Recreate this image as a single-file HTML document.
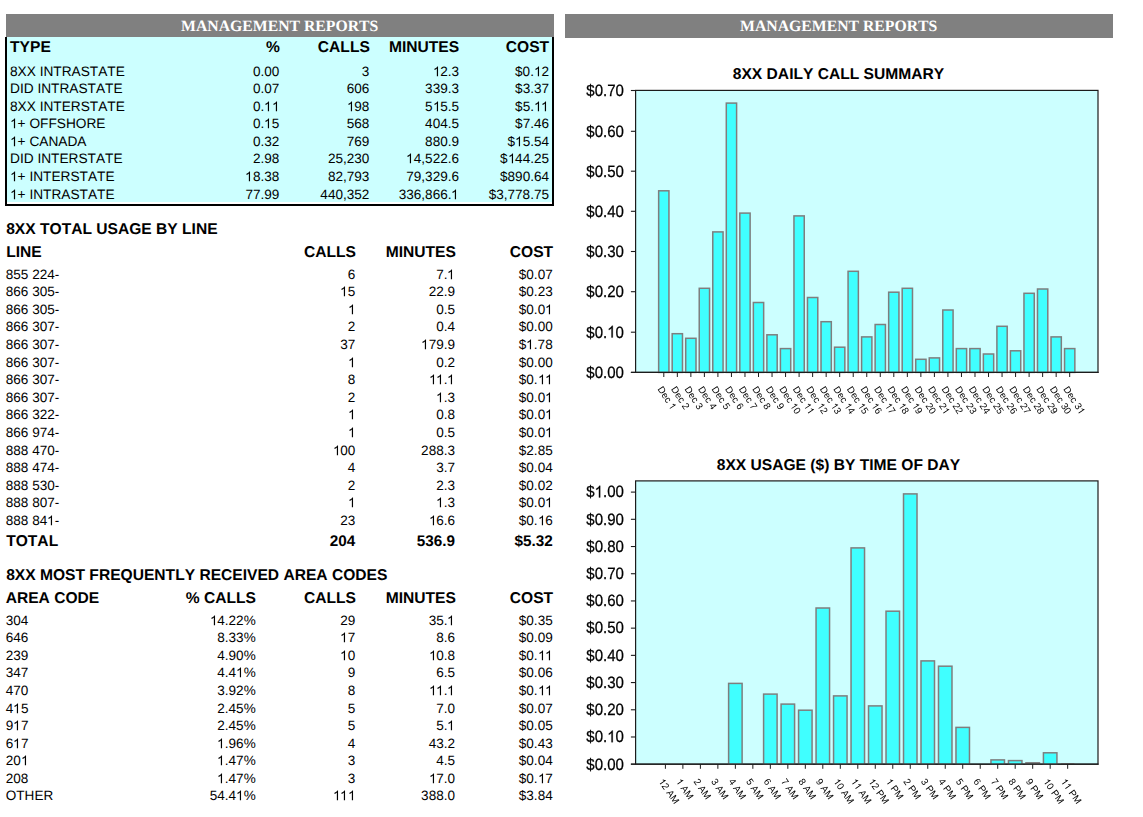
<!DOCTYPE html>
<html><head><meta charset="utf-8"><title>Management Reports</title>
<style>
html,body{margin:0;padding:0;background:#fff;}
body{width:1143px;height:817px;position:relative;overflow:hidden;font-family:"Liberation Sans",sans-serif;color:#000;text-rendering:geometricPrecision;font-kerning:none;}
.t{position:absolute;line-height:20px;white-space:nowrap;}
.bar{position:absolute;background:#808080;}
.o{position:static;display:inline-block;vertical-align:baseline;overflow:visible;will-change:auto;pointer-events:auto;}
svg{position:absolute;left:0;top:0;will-change:transform;pointer-events:none;}
.g{will-change:transform;}
svg text{font-family:"Liberation Sans",sans-serif;font-kerning:none;}
</style></head><body>
<div class="bar" style="left:6px;top:14px;width:548px;height:23px"></div>
<div class="bar" style="left:565px;top:14px;width:548px;height:24px"></div>
<div class="t" style="top:17px;font-size:15.75px;left:-20.30px;width:600px;text-align:center;font-weight:bold;color:#fff;font-family:'Liberation Serif',serif;">MANAGEMENT REPORTS</div>
<div class="t" style="top:17px;font-size:15.75px;left:538.70px;width:600px;text-align:center;font-weight:bold;color:#fff;font-family:'Liberation Serif',serif;">MANAGEMENT REPORTS</div>
<div style="position:absolute;left:5px;top:36.6px;width:549px;height:165.4px;background:#ccffff"></div>
<div style="position:absolute;left:5px;top:37px;width:2px;height:169.3px;background:#000"></div>
<div style="position:absolute;left:552.2px;top:37px;width:2.1px;height:169.3px;background:#000"></div>
<div style="position:absolute;left:5px;top:204.3px;width:549.3px;height:2px;background:#000"></div>
<div class="t" style="top:38px;font-size:15.6px;left:10.10px;font-weight:bold;">TYPE</div>
<div class="t" style="top:38px;font-size:15.6px;right:863.10px;font-weight:bold;">%</div>
<div class="t" style="top:38px;font-size:15.6px;right:773.20px;font-weight:bold;">CALLS</div>
<div class="t" style="top:38px;font-size:15.6px;right:683.90px;font-weight:bold;">MINUTES</div>
<div class="t" style="top:38px;font-size:15.6px;right:593.90px;font-weight:bold;">COST</div>
<div class="t" style="top:62px;font-size:13.7px;left:10.00px;">8XX INTRASTATE</div>
<div class="t" style="top:62px;font-size:13.55px;right:863.70px;">0.00</div>
<div class="t" style="top:62px;font-size:13.55px;right:773.70px;">3</div>
<div class="t" style="top:62px;font-size:13.55px;right:684.00px;"><svg class="o" width="7.534" height="10.163" viewBox="0 -0.75 0.556 0.75"><path transform="scale(1,-1)" d="M.3726,0H.2847V.56Q.2529,.5298 .2014,.4995T.1089,.4541V.5391Q.1826,.5737 .2378,.623T.3159,.7188H.3726Z"/></svg>2.3</div>
<div class="t" style="top:62px;font-size:13.55px;right:594.00px;">$0.<svg class="o" width="7.534" height="10.163" viewBox="0 -0.75 0.556 0.75"><path transform="scale(1,-1)" d="M.3726,0H.2847V.56Q.2529,.5298 .2014,.4995T.1089,.4541V.5391Q.1826,.5737 .2378,.623T.3159,.7188H.3726Z"/></svg>2</div>
<div class="t" style="top:79px;font-size:13.7px;left:10.00px;">DID INTRASTATE</div>
<div class="t" style="top:79px;font-size:13.55px;right:863.70px;">0.07</div>
<div class="t" style="top:79px;font-size:13.55px;right:773.70px;">606</div>
<div class="t" style="top:79px;font-size:13.55px;right:684.00px;">339.3</div>
<div class="t" style="top:79px;font-size:13.55px;right:594.00px;">$3.37</div>
<div class="t" style="top:97px;font-size:13.7px;left:10.00px;">8XX INTERSTATE</div>
<div class="t" style="top:97px;font-size:13.55px;right:863.70px;">0.<svg class="o" width="7.534" height="10.163" viewBox="0 -0.75 0.556 0.75"><path transform="scale(1,-1)" d="M.3726,0H.2847V.56Q.2529,.5298 .2014,.4995T.1089,.4541V.5391Q.1826,.5737 .2378,.623T.3159,.7188H.3726Z"/></svg><svg class="o" width="7.534" height="10.163" viewBox="0 -0.75 0.556 0.75"><path transform="scale(1,-1)" d="M.3726,0H.2847V.56Q.2529,.5298 .2014,.4995T.1089,.4541V.5391Q.1826,.5737 .2378,.623T.3159,.7188H.3726Z"/></svg></div>
<div class="t" style="top:97px;font-size:13.55px;right:773.70px;"><svg class="o" width="7.534" height="10.163" viewBox="0 -0.75 0.556 0.75"><path transform="scale(1,-1)" d="M.3726,0H.2847V.56Q.2529,.5298 .2014,.4995T.1089,.4541V.5391Q.1826,.5737 .2378,.623T.3159,.7188H.3726Z"/></svg>98</div>
<div class="t" style="top:97px;font-size:13.55px;right:684.00px;">5<svg class="o" width="7.534" height="10.163" viewBox="0 -0.75 0.556 0.75"><path transform="scale(1,-1)" d="M.3726,0H.2847V.56Q.2529,.5298 .2014,.4995T.1089,.4541V.5391Q.1826,.5737 .2378,.623T.3159,.7188H.3726Z"/></svg>5.5</div>
<div class="t" style="top:97px;font-size:13.55px;right:594.00px;">$5.<svg class="o" width="7.534" height="10.163" viewBox="0 -0.75 0.556 0.75"><path transform="scale(1,-1)" d="M.3726,0H.2847V.56Q.2529,.5298 .2014,.4995T.1089,.4541V.5391Q.1826,.5737 .2378,.623T.3159,.7188H.3726Z"/></svg><svg class="o" width="7.534" height="10.163" viewBox="0 -0.75 0.556 0.75"><path transform="scale(1,-1)" d="M.3726,0H.2847V.56Q.2529,.5298 .2014,.4995T.1089,.4541V.5391Q.1826,.5737 .2378,.623T.3159,.7188H.3726Z"/></svg></div>
<div class="t" style="top:114px;font-size:13.7px;left:10.00px;"><svg class="o" width="7.617" height="10.275" viewBox="0 -0.75 0.556 0.75"><path transform="scale(1,-1)" d="M.3726,0H.2847V.56Q.2529,.5298 .2014,.4995T.1089,.4541V.5391Q.1826,.5737 .2378,.623T.3159,.7188H.3726Z"/></svg>+ OFFSHORE</div>
<div class="t" style="top:114px;font-size:13.55px;right:863.70px;">0.<svg class="o" width="7.534" height="10.163" viewBox="0 -0.75 0.556 0.75"><path transform="scale(1,-1)" d="M.3726,0H.2847V.56Q.2529,.5298 .2014,.4995T.1089,.4541V.5391Q.1826,.5737 .2378,.623T.3159,.7188H.3726Z"/></svg>5</div>
<div class="t" style="top:114px;font-size:13.55px;right:773.70px;">568</div>
<div class="t" style="top:114px;font-size:13.55px;right:684.00px;">404.5</div>
<div class="t" style="top:114px;font-size:13.55px;right:594.00px;">$7.46</div>
<div class="t" style="top:132px;font-size:13.7px;left:10.00px;"><svg class="o" width="7.617" height="10.275" viewBox="0 -0.75 0.556 0.75"><path transform="scale(1,-1)" d="M.3726,0H.2847V.56Q.2529,.5298 .2014,.4995T.1089,.4541V.5391Q.1826,.5737 .2378,.623T.3159,.7188H.3726Z"/></svg>+ CANADA</div>
<div class="t" style="top:132px;font-size:13.55px;right:863.70px;">0.32</div>
<div class="t" style="top:132px;font-size:13.55px;right:773.70px;">769</div>
<div class="t" style="top:132px;font-size:13.55px;right:684.00px;">880.9</div>
<div class="t" style="top:132px;font-size:13.55px;right:594.00px;">$<svg class="o" width="7.534" height="10.163" viewBox="0 -0.75 0.556 0.75"><path transform="scale(1,-1)" d="M.3726,0H.2847V.56Q.2529,.5298 .2014,.4995T.1089,.4541V.5391Q.1826,.5737 .2378,.623T.3159,.7188H.3726Z"/></svg>5.54</div>
<div class="t" style="top:149px;font-size:13.7px;left:10.00px;">DID INTERSTATE</div>
<div class="t" style="top:149px;font-size:13.55px;right:863.70px;">2.98</div>
<div class="t" style="top:149px;font-size:13.55px;right:773.70px;">25,230</div>
<div class="t" style="top:149px;font-size:13.55px;right:684.00px;"><svg class="o" width="7.534" height="10.163" viewBox="0 -0.75 0.556 0.75"><path transform="scale(1,-1)" d="M.3726,0H.2847V.56Q.2529,.5298 .2014,.4995T.1089,.4541V.5391Q.1826,.5737 .2378,.623T.3159,.7188H.3726Z"/></svg>4,522.6</div>
<div class="t" style="top:149px;font-size:13.55px;right:594.00px;">$<svg class="o" width="7.534" height="10.163" viewBox="0 -0.75 0.556 0.75"><path transform="scale(1,-1)" d="M.3726,0H.2847V.56Q.2529,.5298 .2014,.4995T.1089,.4541V.5391Q.1826,.5737 .2378,.623T.3159,.7188H.3726Z"/></svg>44.25</div>
<div class="t" style="top:167px;font-size:13.7px;left:10.00px;"><svg class="o" width="7.617" height="10.275" viewBox="0 -0.75 0.556 0.75"><path transform="scale(1,-1)" d="M.3726,0H.2847V.56Q.2529,.5298 .2014,.4995T.1089,.4541V.5391Q.1826,.5737 .2378,.623T.3159,.7188H.3726Z"/></svg>+ INTERSTATE</div>
<div class="t" style="top:167px;font-size:13.55px;right:863.70px;"><svg class="o" width="7.534" height="10.163" viewBox="0 -0.75 0.556 0.75"><path transform="scale(1,-1)" d="M.3726,0H.2847V.56Q.2529,.5298 .2014,.4995T.1089,.4541V.5391Q.1826,.5737 .2378,.623T.3159,.7188H.3726Z"/></svg>8.38</div>
<div class="t" style="top:167px;font-size:13.55px;right:773.70px;">82,793</div>
<div class="t" style="top:167px;font-size:13.55px;right:684.00px;">79,329.6</div>
<div class="t" style="top:167px;font-size:13.55px;right:594.00px;">$890.64</div>
<div class="t" style="top:185px;font-size:13.7px;left:10.00px;"><svg class="o" width="7.617" height="10.275" viewBox="0 -0.75 0.556 0.75"><path transform="scale(1,-1)" d="M.3726,0H.2847V.56Q.2529,.5298 .2014,.4995T.1089,.4541V.5391Q.1826,.5737 .2378,.623T.3159,.7188H.3726Z"/></svg>+ INTRASTATE</div>
<div class="t" style="top:185px;font-size:13.55px;right:863.70px;">77.99</div>
<div class="t" style="top:185px;font-size:13.55px;right:773.70px;">440,352</div>
<div class="t" style="top:185px;font-size:13.55px;right:684.00px;">336,866.<svg class="o" width="7.534" height="10.163" viewBox="0 -0.75 0.556 0.75"><path transform="scale(1,-1)" d="M.3726,0H.2847V.56Q.2529,.5298 .2014,.4995T.1089,.4541V.5391Q.1826,.5737 .2378,.623T.3159,.7188H.3726Z"/></svg></div>
<div class="t" style="top:185px;font-size:13.55px;right:594.00px;">$3,778.75</div>
<div class="t" style="top:220px;font-size:15.6px;left:6.20px;font-weight:bold;">8XX TOTAL USAGE BY LINE</div>
<div class="t" style="top:243px;font-size:15.6px;left:6.20px;font-weight:bold;">LINE</div>
<div class="t" style="top:243px;font-size:15.6px;right:787.10px;font-weight:bold;">CALLS</div>
<div class="t" style="top:243px;font-size:15.6px;right:687.20px;font-weight:bold;">MINUTES</div>
<div class="t" style="top:243px;font-size:15.6px;right:589.90px;font-weight:bold;">COST</div>
<div class="t" style="top:265px;font-size:13.55px;left:5.80px;">855 224-</div>
<div class="t" style="top:265px;font-size:13.55px;right:787.70px;">6</div>
<div class="t" style="top:265px;font-size:13.55px;right:688.00px;">7.<svg class="o" width="7.534" height="10.163" viewBox="0 -0.75 0.556 0.75"><path transform="scale(1,-1)" d="M.3726,0H.2847V.56Q.2529,.5298 .2014,.4995T.1089,.4541V.5391Q.1826,.5737 .2378,.623T.3159,.7188H.3726Z"/></svg></div>
<div class="t" style="top:265px;font-size:13.55px;right:590.30px;">$0.07</div>
<div class="t" style="top:282px;font-size:13.55px;left:5.80px;">866 305-</div>
<div class="t" style="top:282px;font-size:13.55px;right:787.70px;"><svg class="o" width="7.534" height="10.163" viewBox="0 -0.75 0.556 0.75"><path transform="scale(1,-1)" d="M.3726,0H.2847V.56Q.2529,.5298 .2014,.4995T.1089,.4541V.5391Q.1826,.5737 .2378,.623T.3159,.7188H.3726Z"/></svg>5</div>
<div class="t" style="top:282px;font-size:13.55px;right:688.00px;">22.9</div>
<div class="t" style="top:282px;font-size:13.55px;right:590.30px;">$0.23</div>
<div class="t" style="top:300px;font-size:13.55px;left:5.80px;">866 305-</div>
<div class="t" style="top:300px;font-size:13.55px;right:787.70px;"><svg class="o" width="7.534" height="10.163" viewBox="0 -0.75 0.556 0.75"><path transform="scale(1,-1)" d="M.3726,0H.2847V.56Q.2529,.5298 .2014,.4995T.1089,.4541V.5391Q.1826,.5737 .2378,.623T.3159,.7188H.3726Z"/></svg></div>
<div class="t" style="top:300px;font-size:13.55px;right:688.00px;">0.5</div>
<div class="t" style="top:300px;font-size:13.55px;right:590.30px;">$0.0<svg class="o" width="7.534" height="10.163" viewBox="0 -0.75 0.556 0.75"><path transform="scale(1,-1)" d="M.3726,0H.2847V.56Q.2529,.5298 .2014,.4995T.1089,.4541V.5391Q.1826,.5737 .2378,.623T.3159,.7188H.3726Z"/></svg></div>
<div class="t" style="top:317px;font-size:13.55px;left:5.80px;">866 307-</div>
<div class="t" style="top:317px;font-size:13.55px;right:787.70px;">2</div>
<div class="t" style="top:317px;font-size:13.55px;right:688.00px;">0.4</div>
<div class="t" style="top:317px;font-size:13.55px;right:590.30px;">$0.00</div>
<div class="t" style="top:335px;font-size:13.55px;left:5.80px;">866 307-</div>
<div class="t" style="top:335px;font-size:13.55px;right:787.70px;">37</div>
<div class="t" style="top:335px;font-size:13.55px;right:688.00px;"><svg class="o" width="7.534" height="10.163" viewBox="0 -0.75 0.556 0.75"><path transform="scale(1,-1)" d="M.3726,0H.2847V.56Q.2529,.5298 .2014,.4995T.1089,.4541V.5391Q.1826,.5737 .2378,.623T.3159,.7188H.3726Z"/></svg>79.9</div>
<div class="t" style="top:335px;font-size:13.55px;right:590.30px;">$<svg class="o" width="7.534" height="10.163" viewBox="0 -0.75 0.556 0.75"><path transform="scale(1,-1)" d="M.3726,0H.2847V.56Q.2529,.5298 .2014,.4995T.1089,.4541V.5391Q.1826,.5737 .2378,.623T.3159,.7188H.3726Z"/></svg>.78</div>
<div class="t" style="top:353px;font-size:13.55px;left:5.80px;">866 307-</div>
<div class="t" style="top:353px;font-size:13.55px;right:787.70px;"><svg class="o" width="7.534" height="10.163" viewBox="0 -0.75 0.556 0.75"><path transform="scale(1,-1)" d="M.3726,0H.2847V.56Q.2529,.5298 .2014,.4995T.1089,.4541V.5391Q.1826,.5737 .2378,.623T.3159,.7188H.3726Z"/></svg></div>
<div class="t" style="top:353px;font-size:13.55px;right:688.00px;">0.2</div>
<div class="t" style="top:353px;font-size:13.55px;right:590.30px;">$0.00</div>
<div class="t" style="top:370px;font-size:13.55px;left:5.80px;">866 307-</div>
<div class="t" style="top:370px;font-size:13.55px;right:787.70px;">8</div>
<div class="t" style="top:370px;font-size:13.55px;right:688.00px;"><svg class="o" width="7.534" height="10.163" viewBox="0 -0.75 0.556 0.75"><path transform="scale(1,-1)" d="M.3726,0H.2847V.56Q.2529,.5298 .2014,.4995T.1089,.4541V.5391Q.1826,.5737 .2378,.623T.3159,.7188H.3726Z"/></svg><svg class="o" width="7.534" height="10.163" viewBox="0 -0.75 0.556 0.75"><path transform="scale(1,-1)" d="M.3726,0H.2847V.56Q.2529,.5298 .2014,.4995T.1089,.4541V.5391Q.1826,.5737 .2378,.623T.3159,.7188H.3726Z"/></svg>.<svg class="o" width="7.534" height="10.163" viewBox="0 -0.75 0.556 0.75"><path transform="scale(1,-1)" d="M.3726,0H.2847V.56Q.2529,.5298 .2014,.4995T.1089,.4541V.5391Q.1826,.5737 .2378,.623T.3159,.7188H.3726Z"/></svg></div>
<div class="t" style="top:370px;font-size:13.55px;right:590.30px;">$0.<svg class="o" width="7.534" height="10.163" viewBox="0 -0.75 0.556 0.75"><path transform="scale(1,-1)" d="M.3726,0H.2847V.56Q.2529,.5298 .2014,.4995T.1089,.4541V.5391Q.1826,.5737 .2378,.623T.3159,.7188H.3726Z"/></svg><svg class="o" width="7.534" height="10.163" viewBox="0 -0.75 0.556 0.75"><path transform="scale(1,-1)" d="M.3726,0H.2847V.56Q.2529,.5298 .2014,.4995T.1089,.4541V.5391Q.1826,.5737 .2378,.623T.3159,.7188H.3726Z"/></svg></div>
<div class="t" style="top:388px;font-size:13.55px;left:5.80px;">866 307-</div>
<div class="t" style="top:388px;font-size:13.55px;right:787.70px;">2</div>
<div class="t" style="top:388px;font-size:13.55px;right:688.00px;"><svg class="o" width="7.534" height="10.163" viewBox="0 -0.75 0.556 0.75"><path transform="scale(1,-1)" d="M.3726,0H.2847V.56Q.2529,.5298 .2014,.4995T.1089,.4541V.5391Q.1826,.5737 .2378,.623T.3159,.7188H.3726Z"/></svg>.3</div>
<div class="t" style="top:388px;font-size:13.55px;right:590.30px;">$0.0<svg class="o" width="7.534" height="10.163" viewBox="0 -0.75 0.556 0.75"><path transform="scale(1,-1)" d="M.3726,0H.2847V.56Q.2529,.5298 .2014,.4995T.1089,.4541V.5391Q.1826,.5737 .2378,.623T.3159,.7188H.3726Z"/></svg></div>
<div class="t" style="top:405px;font-size:13.55px;left:5.80px;">866 322-</div>
<div class="t" style="top:405px;font-size:13.55px;right:787.70px;"><svg class="o" width="7.534" height="10.163" viewBox="0 -0.75 0.556 0.75"><path transform="scale(1,-1)" d="M.3726,0H.2847V.56Q.2529,.5298 .2014,.4995T.1089,.4541V.5391Q.1826,.5737 .2378,.623T.3159,.7188H.3726Z"/></svg></div>
<div class="t" style="top:405px;font-size:13.55px;right:688.00px;">0.8</div>
<div class="t" style="top:405px;font-size:13.55px;right:590.30px;">$0.0<svg class="o" width="7.534" height="10.163" viewBox="0 -0.75 0.556 0.75"><path transform="scale(1,-1)" d="M.3726,0H.2847V.56Q.2529,.5298 .2014,.4995T.1089,.4541V.5391Q.1826,.5737 .2378,.623T.3159,.7188H.3726Z"/></svg></div>
<div class="t" style="top:423px;font-size:13.55px;left:5.80px;">866 974-</div>
<div class="t" style="top:423px;font-size:13.55px;right:787.70px;"><svg class="o" width="7.534" height="10.163" viewBox="0 -0.75 0.556 0.75"><path transform="scale(1,-1)" d="M.3726,0H.2847V.56Q.2529,.5298 .2014,.4995T.1089,.4541V.5391Q.1826,.5737 .2378,.623T.3159,.7188H.3726Z"/></svg></div>
<div class="t" style="top:423px;font-size:13.55px;right:688.00px;">0.5</div>
<div class="t" style="top:423px;font-size:13.55px;right:590.30px;">$0.0<svg class="o" width="7.534" height="10.163" viewBox="0 -0.75 0.556 0.75"><path transform="scale(1,-1)" d="M.3726,0H.2847V.56Q.2529,.5298 .2014,.4995T.1089,.4541V.5391Q.1826,.5737 .2378,.623T.3159,.7188H.3726Z"/></svg></div>
<div class="t" style="top:441px;font-size:13.55px;left:5.80px;">888 470-</div>
<div class="t" style="top:441px;font-size:13.55px;right:787.70px;"><svg class="o" width="7.534" height="10.163" viewBox="0 -0.75 0.556 0.75"><path transform="scale(1,-1)" d="M.3726,0H.2847V.56Q.2529,.5298 .2014,.4995T.1089,.4541V.5391Q.1826,.5737 .2378,.623T.3159,.7188H.3726Z"/></svg>00</div>
<div class="t" style="top:441px;font-size:13.55px;right:688.00px;">288.3</div>
<div class="t" style="top:441px;font-size:13.55px;right:590.30px;">$2.85</div>
<div class="t" style="top:458px;font-size:13.55px;left:5.80px;">888 474-</div>
<div class="t" style="top:458px;font-size:13.55px;right:787.70px;">4</div>
<div class="t" style="top:458px;font-size:13.55px;right:688.00px;">3.7</div>
<div class="t" style="top:458px;font-size:13.55px;right:590.30px;">$0.04</div>
<div class="t" style="top:476px;font-size:13.55px;left:5.80px;">888 530-</div>
<div class="t" style="top:476px;font-size:13.55px;right:787.70px;">2</div>
<div class="t" style="top:476px;font-size:13.55px;right:688.00px;">2.3</div>
<div class="t" style="top:476px;font-size:13.55px;right:590.30px;">$0.02</div>
<div class="t" style="top:493px;font-size:13.55px;left:5.80px;">888 807-</div>
<div class="t" style="top:493px;font-size:13.55px;right:787.70px;"><svg class="o" width="7.534" height="10.163" viewBox="0 -0.75 0.556 0.75"><path transform="scale(1,-1)" d="M.3726,0H.2847V.56Q.2529,.5298 .2014,.4995T.1089,.4541V.5391Q.1826,.5737 .2378,.623T.3159,.7188H.3726Z"/></svg></div>
<div class="t" style="top:493px;font-size:13.55px;right:688.00px;"><svg class="o" width="7.534" height="10.163" viewBox="0 -0.75 0.556 0.75"><path transform="scale(1,-1)" d="M.3726,0H.2847V.56Q.2529,.5298 .2014,.4995T.1089,.4541V.5391Q.1826,.5737 .2378,.623T.3159,.7188H.3726Z"/></svg>.3</div>
<div class="t" style="top:493px;font-size:13.55px;right:590.30px;">$0.0<svg class="o" width="7.534" height="10.163" viewBox="0 -0.75 0.556 0.75"><path transform="scale(1,-1)" d="M.3726,0H.2847V.56Q.2529,.5298 .2014,.4995T.1089,.4541V.5391Q.1826,.5737 .2378,.623T.3159,.7188H.3726Z"/></svg></div>
<div class="t" style="top:511px;font-size:13.55px;left:5.80px;">888 84<svg class="o" width="7.534" height="10.163" viewBox="0 -0.75 0.556 0.75"><path transform="scale(1,-1)" d="M.3726,0H.2847V.56Q.2529,.5298 .2014,.4995T.1089,.4541V.5391Q.1826,.5737 .2378,.623T.3159,.7188H.3726Z"/></svg>-</div>
<div class="t" style="top:511px;font-size:13.55px;right:787.70px;">23</div>
<div class="t" style="top:511px;font-size:13.55px;right:688.00px;"><svg class="o" width="7.534" height="10.163" viewBox="0 -0.75 0.556 0.75"><path transform="scale(1,-1)" d="M.3726,0H.2847V.56Q.2529,.5298 .2014,.4995T.1089,.4541V.5391Q.1826,.5737 .2378,.623T.3159,.7188H.3726Z"/></svg>6.6</div>
<div class="t" style="top:511px;font-size:13.55px;right:590.30px;">$0.<svg class="o" width="7.534" height="10.163" viewBox="0 -0.75 0.556 0.75"><path transform="scale(1,-1)" d="M.3726,0H.2847V.56Q.2529,.5298 .2014,.4995T.1089,.4541V.5391Q.1826,.5737 .2378,.623T.3159,.7188H.3726Z"/></svg>6</div>
<div class="t" style="top:532px;font-size:15.6px;left:6.20px;font-weight:bold;">TOTAL</div>
<div class="t" style="top:532px;font-size:15.3px;right:787.80px;font-weight:bold;">204</div>
<div class="t" style="top:532px;font-size:15.3px;right:688.00px;font-weight:bold;">536.9</div>
<div class="t" style="top:532px;font-size:15.3px;right:590.30px;font-weight:bold;">$5.32</div>
<div class="t" style="top:566px;font-size:15.6px;left:6.20px;font-weight:bold;">8XX MOST FREQUENTLY RECEIVED AREA CODES</div>
<div class="t" style="top:589px;font-size:15.6px;left:5.70px;font-weight:bold;">AREA CODE</div>
<div class="t" style="top:589px;font-size:15.6px;right:887.10px;font-weight:bold;">% CALLS</div>
<div class="t" style="top:589px;font-size:15.6px;right:787.10px;font-weight:bold;">CALLS</div>
<div class="t" style="top:589px;font-size:15.6px;right:687.20px;font-weight:bold;">MINUTES</div>
<div class="t" style="top:589px;font-size:15.6px;right:589.90px;font-weight:bold;">COST</div>
<div class="t" style="top:611px;font-size:13.55px;left:5.80px;">304</div>
<div class="t" style="top:611px;font-size:13.55px;right:887.30px;"><svg class="o" width="7.534" height="10.163" viewBox="0 -0.75 0.556 0.75"><path transform="scale(1,-1)" d="M.3726,0H.2847V.56Q.2529,.5298 .2014,.4995T.1089,.4541V.5391Q.1826,.5737 .2378,.623T.3159,.7188H.3726Z"/></svg>4.22%</div>
<div class="t" style="top:611px;font-size:13.55px;right:787.60px;">29</div>
<div class="t" style="top:611px;font-size:13.55px;right:688.00px;">35.<svg class="o" width="7.534" height="10.163" viewBox="0 -0.75 0.556 0.75"><path transform="scale(1,-1)" d="M.3726,0H.2847V.56Q.2529,.5298 .2014,.4995T.1089,.4541V.5391Q.1826,.5737 .2378,.623T.3159,.7188H.3726Z"/></svg></div>
<div class="t" style="top:611px;font-size:13.55px;right:590.30px;">$0.35</div>
<div class="t" style="top:628px;font-size:13.55px;left:5.80px;">646</div>
<div class="t" style="top:628px;font-size:13.55px;right:887.30px;">8.33%</div>
<div class="t" style="top:628px;font-size:13.55px;right:787.60px;"><svg class="o" width="7.534" height="10.163" viewBox="0 -0.75 0.556 0.75"><path transform="scale(1,-1)" d="M.3726,0H.2847V.56Q.2529,.5298 .2014,.4995T.1089,.4541V.5391Q.1826,.5737 .2378,.623T.3159,.7188H.3726Z"/></svg>7</div>
<div class="t" style="top:628px;font-size:13.55px;right:688.00px;">8.6</div>
<div class="t" style="top:628px;font-size:13.55px;right:590.30px;">$0.09</div>
<div class="t" style="top:646px;font-size:13.55px;left:5.80px;">239</div>
<div class="t" style="top:646px;font-size:13.55px;right:887.30px;">4.90%</div>
<div class="t" style="top:646px;font-size:13.55px;right:787.60px;"><svg class="o" width="7.534" height="10.163" viewBox="0 -0.75 0.556 0.75"><path transform="scale(1,-1)" d="M.3726,0H.2847V.56Q.2529,.5298 .2014,.4995T.1089,.4541V.5391Q.1826,.5737 .2378,.623T.3159,.7188H.3726Z"/></svg>0</div>
<div class="t" style="top:646px;font-size:13.55px;right:688.00px;"><svg class="o" width="7.534" height="10.163" viewBox="0 -0.75 0.556 0.75"><path transform="scale(1,-1)" d="M.3726,0H.2847V.56Q.2529,.5298 .2014,.4995T.1089,.4541V.5391Q.1826,.5737 .2378,.623T.3159,.7188H.3726Z"/></svg>0.8</div>
<div class="t" style="top:646px;font-size:13.55px;right:590.30px;">$0.<svg class="o" width="7.534" height="10.163" viewBox="0 -0.75 0.556 0.75"><path transform="scale(1,-1)" d="M.3726,0H.2847V.56Q.2529,.5298 .2014,.4995T.1089,.4541V.5391Q.1826,.5737 .2378,.623T.3159,.7188H.3726Z"/></svg><svg class="o" width="7.534" height="10.163" viewBox="0 -0.75 0.556 0.75"><path transform="scale(1,-1)" d="M.3726,0H.2847V.56Q.2529,.5298 .2014,.4995T.1089,.4541V.5391Q.1826,.5737 .2378,.623T.3159,.7188H.3726Z"/></svg></div>
<div class="t" style="top:663px;font-size:13.55px;left:5.80px;">347</div>
<div class="t" style="top:663px;font-size:13.55px;right:887.30px;">4.4<svg class="o" width="7.534" height="10.163" viewBox="0 -0.75 0.556 0.75"><path transform="scale(1,-1)" d="M.3726,0H.2847V.56Q.2529,.5298 .2014,.4995T.1089,.4541V.5391Q.1826,.5737 .2378,.623T.3159,.7188H.3726Z"/></svg>%</div>
<div class="t" style="top:663px;font-size:13.55px;right:787.60px;">9</div>
<div class="t" style="top:663px;font-size:13.55px;right:688.00px;">6.5</div>
<div class="t" style="top:663px;font-size:13.55px;right:590.30px;">$0.06</div>
<div class="t" style="top:681px;font-size:13.55px;left:5.80px;">470</div>
<div class="t" style="top:681px;font-size:13.55px;right:887.30px;">3.92%</div>
<div class="t" style="top:681px;font-size:13.55px;right:787.60px;">8</div>
<div class="t" style="top:681px;font-size:13.55px;right:688.00px;"><svg class="o" width="7.534" height="10.163" viewBox="0 -0.75 0.556 0.75"><path transform="scale(1,-1)" d="M.3726,0H.2847V.56Q.2529,.5298 .2014,.4995T.1089,.4541V.5391Q.1826,.5737 .2378,.623T.3159,.7188H.3726Z"/></svg><svg class="o" width="7.534" height="10.163" viewBox="0 -0.75 0.556 0.75"><path transform="scale(1,-1)" d="M.3726,0H.2847V.56Q.2529,.5298 .2014,.4995T.1089,.4541V.5391Q.1826,.5737 .2378,.623T.3159,.7188H.3726Z"/></svg>.<svg class="o" width="7.534" height="10.163" viewBox="0 -0.75 0.556 0.75"><path transform="scale(1,-1)" d="M.3726,0H.2847V.56Q.2529,.5298 .2014,.4995T.1089,.4541V.5391Q.1826,.5737 .2378,.623T.3159,.7188H.3726Z"/></svg></div>
<div class="t" style="top:681px;font-size:13.55px;right:590.30px;">$0.<svg class="o" width="7.534" height="10.163" viewBox="0 -0.75 0.556 0.75"><path transform="scale(1,-1)" d="M.3726,0H.2847V.56Q.2529,.5298 .2014,.4995T.1089,.4541V.5391Q.1826,.5737 .2378,.623T.3159,.7188H.3726Z"/></svg><svg class="o" width="7.534" height="10.163" viewBox="0 -0.75 0.556 0.75"><path transform="scale(1,-1)" d="M.3726,0H.2847V.56Q.2529,.5298 .2014,.4995T.1089,.4541V.5391Q.1826,.5737 .2378,.623T.3159,.7188H.3726Z"/></svg></div>
<div class="t" style="top:699px;font-size:13.55px;left:5.80px;">4<svg class="o" width="7.534" height="10.163" viewBox="0 -0.75 0.556 0.75"><path transform="scale(1,-1)" d="M.3726,0H.2847V.56Q.2529,.5298 .2014,.4995T.1089,.4541V.5391Q.1826,.5737 .2378,.623T.3159,.7188H.3726Z"/></svg>5</div>
<div class="t" style="top:699px;font-size:13.55px;right:887.30px;">2.45%</div>
<div class="t" style="top:699px;font-size:13.55px;right:787.60px;">5</div>
<div class="t" style="top:699px;font-size:13.55px;right:688.00px;">7.0</div>
<div class="t" style="top:699px;font-size:13.55px;right:590.30px;">$0.07</div>
<div class="t" style="top:716px;font-size:13.55px;left:5.80px;">9<svg class="o" width="7.534" height="10.163" viewBox="0 -0.75 0.556 0.75"><path transform="scale(1,-1)" d="M.3726,0H.2847V.56Q.2529,.5298 .2014,.4995T.1089,.4541V.5391Q.1826,.5737 .2378,.623T.3159,.7188H.3726Z"/></svg>7</div>
<div class="t" style="top:716px;font-size:13.55px;right:887.30px;">2.45%</div>
<div class="t" style="top:716px;font-size:13.55px;right:787.60px;">5</div>
<div class="t" style="top:716px;font-size:13.55px;right:688.00px;">5.<svg class="o" width="7.534" height="10.163" viewBox="0 -0.75 0.556 0.75"><path transform="scale(1,-1)" d="M.3726,0H.2847V.56Q.2529,.5298 .2014,.4995T.1089,.4541V.5391Q.1826,.5737 .2378,.623T.3159,.7188H.3726Z"/></svg></div>
<div class="t" style="top:716px;font-size:13.55px;right:590.30px;">$0.05</div>
<div class="t" style="top:734px;font-size:13.55px;left:5.80px;">6<svg class="o" width="7.534" height="10.163" viewBox="0 -0.75 0.556 0.75"><path transform="scale(1,-1)" d="M.3726,0H.2847V.56Q.2529,.5298 .2014,.4995T.1089,.4541V.5391Q.1826,.5737 .2378,.623T.3159,.7188H.3726Z"/></svg>7</div>
<div class="t" style="top:734px;font-size:13.55px;right:887.30px;"><svg class="o" width="7.534" height="10.163" viewBox="0 -0.75 0.556 0.75"><path transform="scale(1,-1)" d="M.3726,0H.2847V.56Q.2529,.5298 .2014,.4995T.1089,.4541V.5391Q.1826,.5737 .2378,.623T.3159,.7188H.3726Z"/></svg>.96%</div>
<div class="t" style="top:734px;font-size:13.55px;right:787.60px;">4</div>
<div class="t" style="top:734px;font-size:13.55px;right:688.00px;">43.2</div>
<div class="t" style="top:734px;font-size:13.55px;right:590.30px;">$0.43</div>
<div class="t" style="top:751px;font-size:13.55px;left:5.80px;">20<svg class="o" width="7.534" height="10.163" viewBox="0 -0.75 0.556 0.75"><path transform="scale(1,-1)" d="M.3726,0H.2847V.56Q.2529,.5298 .2014,.4995T.1089,.4541V.5391Q.1826,.5737 .2378,.623T.3159,.7188H.3726Z"/></svg></div>
<div class="t" style="top:751px;font-size:13.55px;right:887.30px;"><svg class="o" width="7.534" height="10.163" viewBox="0 -0.75 0.556 0.75"><path transform="scale(1,-1)" d="M.3726,0H.2847V.56Q.2529,.5298 .2014,.4995T.1089,.4541V.5391Q.1826,.5737 .2378,.623T.3159,.7188H.3726Z"/></svg>.47%</div>
<div class="t" style="top:751px;font-size:13.55px;right:787.60px;">3</div>
<div class="t" style="top:751px;font-size:13.55px;right:688.00px;">4.5</div>
<div class="t" style="top:751px;font-size:13.55px;right:590.30px;">$0.04</div>
<div class="t" style="top:769px;font-size:13.55px;left:5.80px;">208</div>
<div class="t" style="top:769px;font-size:13.55px;right:887.30px;"><svg class="o" width="7.534" height="10.163" viewBox="0 -0.75 0.556 0.75"><path transform="scale(1,-1)" d="M.3726,0H.2847V.56Q.2529,.5298 .2014,.4995T.1089,.4541V.5391Q.1826,.5737 .2378,.623T.3159,.7188H.3726Z"/></svg>.47%</div>
<div class="t" style="top:769px;font-size:13.55px;right:787.60px;">3</div>
<div class="t" style="top:769px;font-size:13.55px;right:688.00px;"><svg class="o" width="7.534" height="10.163" viewBox="0 -0.75 0.556 0.75"><path transform="scale(1,-1)" d="M.3726,0H.2847V.56Q.2529,.5298 .2014,.4995T.1089,.4541V.5391Q.1826,.5737 .2378,.623T.3159,.7188H.3726Z"/></svg>7.0</div>
<div class="t" style="top:769px;font-size:13.55px;right:590.30px;">$0.<svg class="o" width="7.534" height="10.163" viewBox="0 -0.75 0.556 0.75"><path transform="scale(1,-1)" d="M.3726,0H.2847V.56Q.2529,.5298 .2014,.4995T.1089,.4541V.5391Q.1826,.5737 .2378,.623T.3159,.7188H.3726Z"/></svg>7</div>
<div class="t" style="top:786px;font-size:13.55px;left:5.80px;">OTHER</div>
<div class="t" style="top:786px;font-size:13.55px;right:887.30px;">54.4<svg class="o" width="7.534" height="10.163" viewBox="0 -0.75 0.556 0.75"><path transform="scale(1,-1)" d="M.3726,0H.2847V.56Q.2529,.5298 .2014,.4995T.1089,.4541V.5391Q.1826,.5737 .2378,.623T.3159,.7188H.3726Z"/></svg>%</div>
<div class="t" style="top:786px;font-size:13.55px;right:787.60px;"><svg class="o" width="7.534" height="10.163" viewBox="0 -0.75 0.556 0.75"><path transform="scale(1,-1)" d="M.3726,0H.2847V.56Q.2529,.5298 .2014,.4995T.1089,.4541V.5391Q.1826,.5737 .2378,.623T.3159,.7188H.3726Z"/></svg><svg class="o" width="7.534" height="10.163" viewBox="0 -0.75 0.556 0.75"><path transform="scale(1,-1)" d="M.3726,0H.2847V.56Q.2529,.5298 .2014,.4995T.1089,.4541V.5391Q.1826,.5737 .2378,.623T.3159,.7188H.3726Z"/></svg><svg class="o" width="7.534" height="10.163" viewBox="0 -0.75 0.556 0.75"><path transform="scale(1,-1)" d="M.3726,0H.2847V.56Q.2529,.5298 .2014,.4995T.1089,.4541V.5391Q.1826,.5737 .2378,.623T.3159,.7188H.3726Z"/></svg></div>
<div class="t" style="top:786px;font-size:13.55px;right:688.00px;">388.0</div>
<div class="t" style="top:786px;font-size:13.55px;right:590.30px;">$3.84</div>
<div class="t" style="top:65px;font-size:15.6px;left:538.50px;width:600px;text-align:center;font-weight:bold;">8XX DAILY CALL SUMMARY</div>
<div class="t" style="top:456px;font-size:15.6px;left:538.50px;width:600px;text-align:center;font-weight:bold;">8XX USAGE ($) BY TIME OF DAY</div>
<svg width="1143" height="817" viewBox="0 0 1143 817">
<rect x="635.6" y="90.4" width="462.4" height="282.0" fill="#ccffff" stroke="#1c1c1c" stroke-width="1.2"/>
<line x1="630.9" y1="372.40" x2="635.6" y2="372.40" stroke="#1c1c1c" stroke-width="1.1"/>
<g transform="translate(623.90,377.70) scale(0.955,1.04)" fill="#000" stroke="#000" stroke-width="0.25"><text font-size="15.75" x="-39.41 -30.65 -21.89 -17.51 -8.76" y="0">$0.00</text></g>
<line x1="630.9" y1="332.20" x2="635.6" y2="332.20" stroke="#1c1c1c" stroke-width="1.1"/>
<g transform="translate(623.90,337.50) scale(0.955,1.04)" fill="#000" stroke="#000" stroke-width="0.25"><text font-size="15.75" x="-39.41 -30.65 -21.89 -17.51 -8.76" y="0">$0.&#160;0</text><path d="M.3726,0H.2847V.56Q.2529,.5298 .2014,.4995T.1089,.4541V.5391Q.1826,.5737 .2378,.623T.3159,.7188H.3726Z" transform="translate(-17.51,0) scale(15.75,-15.75)" stroke-width="0.01587"/></g>
<line x1="630.9" y1="291.70" x2="635.6" y2="291.70" stroke="#1c1c1c" stroke-width="1.1"/>
<g transform="translate(623.90,297.00) scale(0.955,1.04)" fill="#000" stroke="#000" stroke-width="0.25"><text font-size="15.75" x="-39.41 -30.65 -21.89 -17.51 -8.76" y="0">$0.20</text></g>
<line x1="630.9" y1="251.50" x2="635.6" y2="251.50" stroke="#1c1c1c" stroke-width="1.1"/>
<g transform="translate(623.90,256.80) scale(0.955,1.04)" fill="#000" stroke="#000" stroke-width="0.25"><text font-size="15.75" x="-39.41 -30.65 -21.89 -17.51 -8.76" y="0">$0.30</text></g>
<line x1="630.9" y1="211.30" x2="635.6" y2="211.30" stroke="#1c1c1c" stroke-width="1.1"/>
<g transform="translate(623.90,216.60) scale(0.955,1.04)" fill="#000" stroke="#000" stroke-width="0.25"><text font-size="15.75" x="-39.41 -30.65 -21.89 -17.51 -8.76" y="0">$0.40</text></g>
<line x1="630.9" y1="171.20" x2="635.6" y2="171.20" stroke="#1c1c1c" stroke-width="1.1"/>
<g transform="translate(623.90,176.50) scale(0.955,1.04)" fill="#000" stroke="#000" stroke-width="0.25"><text font-size="15.75" x="-39.41 -30.65 -21.89 -17.51 -8.76" y="0">$0.50</text></g>
<line x1="630.9" y1="131.30" x2="635.6" y2="131.30" stroke="#1c1c1c" stroke-width="1.1"/>
<g transform="translate(623.90,136.60) scale(0.955,1.04)" fill="#000" stroke="#000" stroke-width="0.25"><text font-size="15.75" x="-39.41 -30.65 -21.89 -17.51 -8.76" y="0">$0.60</text></g>
<line x1="630.9" y1="90.50" x2="635.6" y2="90.50" stroke="#1c1c1c" stroke-width="1.1"/>
<g transform="translate(623.90,95.80) scale(0.955,1.04)" fill="#000" stroke="#000" stroke-width="0.25"><text font-size="15.75" x="-39.41 -30.65 -21.89 -17.51 -8.76" y="0">$0.70</text></g>
<rect x="658.65" y="190.80" width="10.30" height="181.60" fill="#40ffff" stroke="#7e7e7e" stroke-width="1.5"/>
<rect x="672.18" y="333.70" width="10.30" height="38.70" fill="#40ffff" stroke="#7e7e7e" stroke-width="1.5"/>
<rect x="685.71" y="338.30" width="10.30" height="34.10" fill="#40ffff" stroke="#7e7e7e" stroke-width="1.5"/>
<rect x="699.24" y="288.30" width="10.30" height="84.10" fill="#40ffff" stroke="#7e7e7e" stroke-width="1.5"/>
<rect x="712.77" y="231.90" width="10.30" height="140.50" fill="#40ffff" stroke="#7e7e7e" stroke-width="1.5"/>
<rect x="726.30" y="103.10" width="10.30" height="269.30" fill="#40ffff" stroke="#7e7e7e" stroke-width="1.5"/>
<rect x="739.83" y="213.10" width="10.30" height="159.30" fill="#40ffff" stroke="#7e7e7e" stroke-width="1.5"/>
<rect x="753.36" y="302.50" width="10.30" height="69.90" fill="#40ffff" stroke="#7e7e7e" stroke-width="1.5"/>
<rect x="766.89" y="334.80" width="10.30" height="37.60" fill="#40ffff" stroke="#7e7e7e" stroke-width="1.5"/>
<rect x="780.42" y="348.60" width="10.30" height="23.80" fill="#40ffff" stroke="#7e7e7e" stroke-width="1.5"/>
<rect x="793.95" y="215.90" width="10.30" height="156.50" fill="#40ffff" stroke="#7e7e7e" stroke-width="1.5"/>
<rect x="807.48" y="297.50" width="10.30" height="74.90" fill="#40ffff" stroke="#7e7e7e" stroke-width="1.5"/>
<rect x="821.01" y="321.70" width="10.30" height="50.70" fill="#40ffff" stroke="#7e7e7e" stroke-width="1.5"/>
<rect x="834.54" y="347.20" width="10.30" height="25.20" fill="#40ffff" stroke="#7e7e7e" stroke-width="1.5"/>
<rect x="848.07" y="271.30" width="10.30" height="101.10" fill="#40ffff" stroke="#7e7e7e" stroke-width="1.5"/>
<rect x="861.60" y="336.90" width="10.30" height="35.50" fill="#40ffff" stroke="#7e7e7e" stroke-width="1.5"/>
<rect x="875.13" y="324.50" width="10.30" height="47.90" fill="#40ffff" stroke="#7e7e7e" stroke-width="1.5"/>
<rect x="888.66" y="292.20" width="10.30" height="80.20" fill="#40ffff" stroke="#7e7e7e" stroke-width="1.5"/>
<rect x="902.19" y="288.30" width="10.30" height="84.10" fill="#40ffff" stroke="#7e7e7e" stroke-width="1.5"/>
<rect x="915.72" y="359.30" width="10.30" height="13.10" fill="#40ffff" stroke="#7e7e7e" stroke-width="1.5"/>
<rect x="929.25" y="357.90" width="10.30" height="14.50" fill="#40ffff" stroke="#7e7e7e" stroke-width="1.5"/>
<rect x="942.78" y="310.00" width="10.30" height="62.40" fill="#40ffff" stroke="#7e7e7e" stroke-width="1.5"/>
<rect x="956.31" y="348.60" width="10.30" height="23.80" fill="#40ffff" stroke="#7e7e7e" stroke-width="1.5"/>
<rect x="969.84" y="348.60" width="10.30" height="23.80" fill="#40ffff" stroke="#7e7e7e" stroke-width="1.5"/>
<rect x="983.37" y="354.00" width="10.30" height="18.40" fill="#40ffff" stroke="#7e7e7e" stroke-width="1.5"/>
<rect x="996.90" y="326.30" width="10.30" height="46.10" fill="#40ffff" stroke="#7e7e7e" stroke-width="1.5"/>
<rect x="1010.43" y="350.80" width="10.30" height="21.60" fill="#40ffff" stroke="#7e7e7e" stroke-width="1.5"/>
<rect x="1023.96" y="293.30" width="10.30" height="79.10" fill="#40ffff" stroke="#7e7e7e" stroke-width="1.5"/>
<rect x="1037.49" y="289.00" width="10.30" height="83.40" fill="#40ffff" stroke="#7e7e7e" stroke-width="1.5"/>
<rect x="1051.02" y="336.90" width="10.30" height="35.50" fill="#40ffff" stroke="#7e7e7e" stroke-width="1.5"/>
<rect x="1064.55" y="348.60" width="10.30" height="23.80" fill="#40ffff" stroke="#7e7e7e" stroke-width="1.5"/>
<line x1="630.9" y1="372.4" x2="1098.6" y2="372.4" stroke="#1c1c1c" stroke-width="1.2"/>
<line x1="663.80" y1="372.4" x2="663.80" y2="377.0" stroke="#1c1c1c" stroke-width="1"/>
<g transform="translate(657.20,389.10) rotate(57)" fill="#000" ><text font-size="9.7" x="0.00 7.00 12.40 17.25 19.94" y="0">Dec&#160;&#160;</text><path d="M.3726,0H.2847V.56Q.2529,.5298 .2014,.4995T.1089,.4541V.5391Q.1826,.5737 .2378,.623T.3159,.7188H.3726Z" transform="translate(19.94,0) scale(9.7,-9.7)"/></g>
<line x1="677.33" y1="372.4" x2="677.33" y2="377.0" stroke="#1c1c1c" stroke-width="1"/>
<g transform="translate(670.73,389.10) rotate(57)" fill="#000" ><text font-size="9.7" x="0.00 7.00 12.40 17.25 19.94" y="0">Dec&#160;2</text></g>
<line x1="690.86" y1="372.4" x2="690.86" y2="377.0" stroke="#1c1c1c" stroke-width="1"/>
<g transform="translate(684.26,389.10) rotate(57)" fill="#000" ><text font-size="9.7" x="0.00 7.00 12.40 17.25 19.94" y="0">Dec&#160;3</text></g>
<line x1="704.39" y1="372.4" x2="704.39" y2="377.0" stroke="#1c1c1c" stroke-width="1"/>
<g transform="translate(697.79,389.10) rotate(57)" fill="#000" ><text font-size="9.7" x="0.00 7.00 12.40 17.25 19.94" y="0">Dec&#160;4</text></g>
<line x1="717.92" y1="372.4" x2="717.92" y2="377.0" stroke="#1c1c1c" stroke-width="1"/>
<g transform="translate(711.32,389.10) rotate(57)" fill="#000" ><text font-size="9.7" x="0.00 7.00 12.40 17.25 19.94" y="0">Dec&#160;5</text></g>
<line x1="731.45" y1="372.4" x2="731.45" y2="377.0" stroke="#1c1c1c" stroke-width="1"/>
<g transform="translate(724.85,389.10) rotate(57)" fill="#000" ><text font-size="9.7" x="0.00 7.00 12.40 17.25 19.94" y="0">Dec&#160;6</text></g>
<line x1="744.98" y1="372.4" x2="744.98" y2="377.0" stroke="#1c1c1c" stroke-width="1"/>
<g transform="translate(738.38,389.10) rotate(57)" fill="#000" ><text font-size="9.7" x="0.00 7.00 12.40 17.25 19.94" y="0">Dec&#160;7</text></g>
<line x1="758.51" y1="372.4" x2="758.51" y2="377.0" stroke="#1c1c1c" stroke-width="1"/>
<g transform="translate(751.91,389.10) rotate(57)" fill="#000" ><text font-size="9.7" x="0.00 7.00 12.40 17.25 19.94" y="0">Dec&#160;8</text></g>
<line x1="772.04" y1="372.4" x2="772.04" y2="377.0" stroke="#1c1c1c" stroke-width="1"/>
<g transform="translate(765.44,389.10) rotate(57)" fill="#000" ><text font-size="9.7" x="0.00 7.00 12.40 17.25 19.94" y="0">Dec&#160;9</text></g>
<line x1="785.57" y1="372.4" x2="785.57" y2="377.0" stroke="#1c1c1c" stroke-width="1"/>
<g transform="translate(778.97,389.10) rotate(57)" fill="#000" ><text font-size="9.7" x="0.00 7.00 12.40 17.25 19.94 25.34" y="0">Dec&#160;&#160;0</text><path d="M.3726,0H.2847V.56Q.2529,.5298 .2014,.4995T.1089,.4541V.5391Q.1826,.5737 .2378,.623T.3159,.7188H.3726Z" transform="translate(19.94,0) scale(9.7,-9.7)"/></g>
<line x1="799.10" y1="372.4" x2="799.10" y2="377.0" stroke="#1c1c1c" stroke-width="1"/>
<g transform="translate(792.50,389.10) rotate(57)" fill="#000" ><text font-size="9.7" x="0.00 7.00 12.40 17.25 19.94 25.34" y="0">Dec&#160;&#160;&#160;</text><path d="M.3726,0H.2847V.56Q.2529,.5298 .2014,.4995T.1089,.4541V.5391Q.1826,.5737 .2378,.623T.3159,.7188H.3726Z" transform="translate(19.94,0) scale(9.7,-9.7)"/><path d="M.3726,0H.2847V.56Q.2529,.5298 .2014,.4995T.1089,.4541V.5391Q.1826,.5737 .2378,.623T.3159,.7188H.3726Z" transform="translate(25.34,0) scale(9.7,-9.7)"/></g>
<line x1="812.63" y1="372.4" x2="812.63" y2="377.0" stroke="#1c1c1c" stroke-width="1"/>
<g transform="translate(806.03,389.10) rotate(57)" fill="#000" ><text font-size="9.7" x="0.00 7.00 12.40 17.25 19.94 25.34" y="0">Dec&#160;&#160;2</text><path d="M.3726,0H.2847V.56Q.2529,.5298 .2014,.4995T.1089,.4541V.5391Q.1826,.5737 .2378,.623T.3159,.7188H.3726Z" transform="translate(19.94,0) scale(9.7,-9.7)"/></g>
<line x1="826.16" y1="372.4" x2="826.16" y2="377.0" stroke="#1c1c1c" stroke-width="1"/>
<g transform="translate(819.56,389.10) rotate(57)" fill="#000" ><text font-size="9.7" x="0.00 7.00 12.40 17.25 19.94 25.34" y="0">Dec&#160;&#160;3</text><path d="M.3726,0H.2847V.56Q.2529,.5298 .2014,.4995T.1089,.4541V.5391Q.1826,.5737 .2378,.623T.3159,.7188H.3726Z" transform="translate(19.94,0) scale(9.7,-9.7)"/></g>
<line x1="839.69" y1="372.4" x2="839.69" y2="377.0" stroke="#1c1c1c" stroke-width="1"/>
<g transform="translate(833.09,389.10) rotate(57)" fill="#000" ><text font-size="9.7" x="0.00 7.00 12.40 17.25 19.94 25.34" y="0">Dec&#160;&#160;4</text><path d="M.3726,0H.2847V.56Q.2529,.5298 .2014,.4995T.1089,.4541V.5391Q.1826,.5737 .2378,.623T.3159,.7188H.3726Z" transform="translate(19.94,0) scale(9.7,-9.7)"/></g>
<line x1="853.22" y1="372.4" x2="853.22" y2="377.0" stroke="#1c1c1c" stroke-width="1"/>
<g transform="translate(846.62,389.10) rotate(57)" fill="#000" ><text font-size="9.7" x="0.00 7.00 12.40 17.25 19.94 25.34" y="0">Dec&#160;&#160;5</text><path d="M.3726,0H.2847V.56Q.2529,.5298 .2014,.4995T.1089,.4541V.5391Q.1826,.5737 .2378,.623T.3159,.7188H.3726Z" transform="translate(19.94,0) scale(9.7,-9.7)"/></g>
<line x1="866.75" y1="372.4" x2="866.75" y2="377.0" stroke="#1c1c1c" stroke-width="1"/>
<g transform="translate(860.15,389.10) rotate(57)" fill="#000" ><text font-size="9.7" x="0.00 7.00 12.40 17.25 19.94 25.34" y="0">Dec&#160;&#160;6</text><path d="M.3726,0H.2847V.56Q.2529,.5298 .2014,.4995T.1089,.4541V.5391Q.1826,.5737 .2378,.623T.3159,.7188H.3726Z" transform="translate(19.94,0) scale(9.7,-9.7)"/></g>
<line x1="880.28" y1="372.4" x2="880.28" y2="377.0" stroke="#1c1c1c" stroke-width="1"/>
<g transform="translate(873.68,389.10) rotate(57)" fill="#000" ><text font-size="9.7" x="0.00 7.00 12.40 17.25 19.94 25.34" y="0">Dec&#160;&#160;7</text><path d="M.3726,0H.2847V.56Q.2529,.5298 .2014,.4995T.1089,.4541V.5391Q.1826,.5737 .2378,.623T.3159,.7188H.3726Z" transform="translate(19.94,0) scale(9.7,-9.7)"/></g>
<line x1="893.81" y1="372.4" x2="893.81" y2="377.0" stroke="#1c1c1c" stroke-width="1"/>
<g transform="translate(887.21,389.10) rotate(57)" fill="#000" ><text font-size="9.7" x="0.00 7.00 12.40 17.25 19.94 25.34" y="0">Dec&#160;&#160;8</text><path d="M.3726,0H.2847V.56Q.2529,.5298 .2014,.4995T.1089,.4541V.5391Q.1826,.5737 .2378,.623T.3159,.7188H.3726Z" transform="translate(19.94,0) scale(9.7,-9.7)"/></g>
<line x1="907.34" y1="372.4" x2="907.34" y2="377.0" stroke="#1c1c1c" stroke-width="1"/>
<g transform="translate(900.74,389.10) rotate(57)" fill="#000" ><text font-size="9.7" x="0.00 7.00 12.40 17.25 19.94 25.34" y="0">Dec&#160;&#160;9</text><path d="M.3726,0H.2847V.56Q.2529,.5298 .2014,.4995T.1089,.4541V.5391Q.1826,.5737 .2378,.623T.3159,.7188H.3726Z" transform="translate(19.94,0) scale(9.7,-9.7)"/></g>
<line x1="920.87" y1="372.4" x2="920.87" y2="377.0" stroke="#1c1c1c" stroke-width="1"/>
<g transform="translate(914.27,389.10) rotate(57)" fill="#000" ><text font-size="9.7" x="0.00 7.00 12.40 17.25 19.94 25.34" y="0">Dec&#160;20</text></g>
<line x1="934.40" y1="372.4" x2="934.40" y2="377.0" stroke="#1c1c1c" stroke-width="1"/>
<g transform="translate(927.80,389.10) rotate(57)" fill="#000" ><text font-size="9.7" x="0.00 7.00 12.40 17.25 19.94 25.34" y="0">Dec&#160;2&#160;</text><path d="M.3726,0H.2847V.56Q.2529,.5298 .2014,.4995T.1089,.4541V.5391Q.1826,.5737 .2378,.623T.3159,.7188H.3726Z" transform="translate(25.34,0) scale(9.7,-9.7)"/></g>
<line x1="947.93" y1="372.4" x2="947.93" y2="377.0" stroke="#1c1c1c" stroke-width="1"/>
<g transform="translate(941.33,389.10) rotate(57)" fill="#000" ><text font-size="9.7" x="0.00 7.00 12.40 17.25 19.94 25.34" y="0">Dec&#160;22</text></g>
<line x1="961.46" y1="372.4" x2="961.46" y2="377.0" stroke="#1c1c1c" stroke-width="1"/>
<g transform="translate(954.86,389.10) rotate(57)" fill="#000" ><text font-size="9.7" x="0.00 7.00 12.40 17.25 19.94 25.34" y="0">Dec&#160;23</text></g>
<line x1="974.99" y1="372.4" x2="974.99" y2="377.0" stroke="#1c1c1c" stroke-width="1"/>
<g transform="translate(968.39,389.10) rotate(57)" fill="#000" ><text font-size="9.7" x="0.00 7.00 12.40 17.25 19.94 25.34" y="0">Dec&#160;24</text></g>
<line x1="988.52" y1="372.4" x2="988.52" y2="377.0" stroke="#1c1c1c" stroke-width="1"/>
<g transform="translate(981.92,389.10) rotate(57)" fill="#000" ><text font-size="9.7" x="0.00 7.00 12.40 17.25 19.94 25.34" y="0">Dec&#160;25</text></g>
<line x1="1002.05" y1="372.4" x2="1002.05" y2="377.0" stroke="#1c1c1c" stroke-width="1"/>
<g transform="translate(995.45,389.10) rotate(57)" fill="#000" ><text font-size="9.7" x="0.00 7.00 12.40 17.25 19.94 25.34" y="0">Dec&#160;26</text></g>
<line x1="1015.58" y1="372.4" x2="1015.58" y2="377.0" stroke="#1c1c1c" stroke-width="1"/>
<g transform="translate(1008.98,389.10) rotate(57)" fill="#000" ><text font-size="9.7" x="0.00 7.00 12.40 17.25 19.94 25.34" y="0">Dec&#160;27</text></g>
<line x1="1029.11" y1="372.4" x2="1029.11" y2="377.0" stroke="#1c1c1c" stroke-width="1"/>
<g transform="translate(1022.51,389.10) rotate(57)" fill="#000" ><text font-size="9.7" x="0.00 7.00 12.40 17.25 19.94 25.34" y="0">Dec&#160;28</text></g>
<line x1="1042.64" y1="372.4" x2="1042.64" y2="377.0" stroke="#1c1c1c" stroke-width="1"/>
<g transform="translate(1036.04,389.10) rotate(57)" fill="#000" ><text font-size="9.7" x="0.00 7.00 12.40 17.25 19.94 25.34" y="0">Dec&#160;29</text></g>
<line x1="1056.17" y1="372.4" x2="1056.17" y2="377.0" stroke="#1c1c1c" stroke-width="1"/>
<g transform="translate(1049.57,389.10) rotate(57)" fill="#000" ><text font-size="9.7" x="0.00 7.00 12.40 17.25 19.94 25.34" y="0">Dec&#160;30</text></g>
<line x1="1069.70" y1="372.4" x2="1069.70" y2="377.0" stroke="#1c1c1c" stroke-width="1"/>
<g transform="translate(1063.10,389.10) rotate(57)" fill="#000" ><text font-size="9.7" x="0.00 7.00 12.40 17.25 19.94 25.34" y="0">Dec&#160;3&#160;</text><path d="M.3726,0H.2847V.56Q.2529,.5298 .2014,.4995T.1089,.4541V.5391Q.1826,.5737 .2378,.623T.3159,.7188H.3726Z" transform="translate(25.34,0) scale(9.7,-9.7)"/></g>
<rect x="635.6" y="480.9" width="462.4" height="283.30000000000007" fill="#ccffff" stroke="#1c1c1c" stroke-width="1.2"/>
<line x1="630.9" y1="764.20" x2="635.6" y2="764.20" stroke="#1c1c1c" stroke-width="1.1"/>
<g transform="translate(623.90,769.50) scale(0.955,1.04)" fill="#000" stroke="#000" stroke-width="0.25"><text font-size="15.75" x="-39.41 -30.65 -21.89 -17.51 -8.76" y="0">$0.00</text></g>
<line x1="630.9" y1="736.99" x2="635.6" y2="736.99" stroke="#1c1c1c" stroke-width="1.1"/>
<g transform="translate(623.90,742.29) scale(0.955,1.04)" fill="#000" stroke="#000" stroke-width="0.25"><text font-size="15.75" x="-39.41 -30.65 -21.89 -17.51 -8.76" y="0">$0.&#160;0</text><path d="M.3726,0H.2847V.56Q.2529,.5298 .2014,.4995T.1089,.4541V.5391Q.1826,.5737 .2378,.623T.3159,.7188H.3726Z" transform="translate(-17.51,0) scale(15.75,-15.75)" stroke-width="0.01587"/></g>
<line x1="630.9" y1="709.78" x2="635.6" y2="709.78" stroke="#1c1c1c" stroke-width="1.1"/>
<g transform="translate(623.90,715.08) scale(0.955,1.04)" fill="#000" stroke="#000" stroke-width="0.25"><text font-size="15.75" x="-39.41 -30.65 -21.89 -17.51 -8.76" y="0">$0.20</text></g>
<line x1="630.9" y1="682.57" x2="635.6" y2="682.57" stroke="#1c1c1c" stroke-width="1.1"/>
<g transform="translate(623.90,687.87) scale(0.955,1.04)" fill="#000" stroke="#000" stroke-width="0.25"><text font-size="15.75" x="-39.41 -30.65 -21.89 -17.51 -8.76" y="0">$0.30</text></g>
<line x1="630.9" y1="655.36" x2="635.6" y2="655.36" stroke="#1c1c1c" stroke-width="1.1"/>
<g transform="translate(623.90,660.66) scale(0.955,1.04)" fill="#000" stroke="#000" stroke-width="0.25"><text font-size="15.75" x="-39.41 -30.65 -21.89 -17.51 -8.76" y="0">$0.40</text></g>
<line x1="630.9" y1="628.15" x2="635.6" y2="628.15" stroke="#1c1c1c" stroke-width="1.1"/>
<g transform="translate(623.90,633.45) scale(0.955,1.04)" fill="#000" stroke="#000" stroke-width="0.25"><text font-size="15.75" x="-39.41 -30.65 -21.89 -17.51 -8.76" y="0">$0.50</text></g>
<line x1="630.9" y1="600.94" x2="635.6" y2="600.94" stroke="#1c1c1c" stroke-width="1.1"/>
<g transform="translate(623.90,606.24) scale(0.955,1.04)" fill="#000" stroke="#000" stroke-width="0.25"><text font-size="15.75" x="-39.41 -30.65 -21.89 -17.51 -8.76" y="0">$0.60</text></g>
<line x1="630.9" y1="573.73" x2="635.6" y2="573.73" stroke="#1c1c1c" stroke-width="1.1"/>
<g transform="translate(623.90,579.03) scale(0.955,1.04)" fill="#000" stroke="#000" stroke-width="0.25"><text font-size="15.75" x="-39.41 -30.65 -21.89 -17.51 -8.76" y="0">$0.70</text></g>
<line x1="630.9" y1="546.52" x2="635.6" y2="546.52" stroke="#1c1c1c" stroke-width="1.1"/>
<g transform="translate(623.90,551.82) scale(0.955,1.04)" fill="#000" stroke="#000" stroke-width="0.25"><text font-size="15.75" x="-39.41 -30.65 -21.89 -17.51 -8.76" y="0">$0.80</text></g>
<line x1="630.9" y1="519.31" x2="635.6" y2="519.31" stroke="#1c1c1c" stroke-width="1.1"/>
<g transform="translate(623.90,524.61) scale(0.955,1.04)" fill="#000" stroke="#000" stroke-width="0.25"><text font-size="15.75" x="-39.41 -30.65 -21.89 -17.51 -8.76" y="0">$0.90</text></g>
<line x1="630.9" y1="492.10" x2="635.6" y2="492.10" stroke="#1c1c1c" stroke-width="1.1"/>
<g transform="translate(623.90,497.40) scale(0.955,1.04)" fill="#000" stroke="#000" stroke-width="0.25"><text font-size="15.75" x="-39.41 -30.65 -21.89 -17.51 -8.76" y="0">$&#160;.00</text><path d="M.3726,0H.2847V.56Q.2529,.5298 .2014,.4995T.1089,.4541V.5391Q.1826,.5737 .2378,.623T.3159,.7188H.3726Z" transform="translate(-30.65,0) scale(15.75,-15.75)" stroke-width="0.01587"/></g>
<rect x="728.61" y="683.40" width="13.50" height="80.80" fill="#40ffff" stroke="#7e7e7e" stroke-width="1.5"/>
<rect x="763.59" y="694.10" width="13.50" height="70.10" fill="#40ffff" stroke="#7e7e7e" stroke-width="1.5"/>
<rect x="781.08" y="704.10" width="13.50" height="60.10" fill="#40ffff" stroke="#7e7e7e" stroke-width="1.5"/>
<rect x="798.57" y="710.20" width="13.50" height="54.00" fill="#40ffff" stroke="#7e7e7e" stroke-width="1.5"/>
<rect x="816.06" y="608.00" width="13.50" height="156.20" fill="#40ffff" stroke="#7e7e7e" stroke-width="1.5"/>
<rect x="833.55" y="695.90" width="13.50" height="68.30" fill="#40ffff" stroke="#7e7e7e" stroke-width="1.5"/>
<rect x="851.04" y="547.90" width="13.50" height="216.30" fill="#40ffff" stroke="#7e7e7e" stroke-width="1.5"/>
<rect x="868.53" y="705.90" width="13.50" height="58.30" fill="#40ffff" stroke="#7e7e7e" stroke-width="1.5"/>
<rect x="886.02" y="611.20" width="13.50" height="153.00" fill="#40ffff" stroke="#7e7e7e" stroke-width="1.5"/>
<rect x="903.51" y="493.90" width="13.50" height="270.30" fill="#40ffff" stroke="#7e7e7e" stroke-width="1.5"/>
<rect x="921.00" y="660.90" width="13.50" height="103.30" fill="#40ffff" stroke="#7e7e7e" stroke-width="1.5"/>
<rect x="938.49" y="666.20" width="13.50" height="98.00" fill="#40ffff" stroke="#7e7e7e" stroke-width="1.5"/>
<rect x="955.98" y="727.40" width="13.50" height="36.80" fill="#40ffff" stroke="#7e7e7e" stroke-width="1.5"/>
<rect x="990.96" y="759.90" width="13.50" height="4.30" fill="#40ffff" stroke="#7e7e7e" stroke-width="1.5"/>
<rect x="1008.45" y="760.60" width="13.50" height="3.60" fill="#40ffff" stroke="#7e7e7e" stroke-width="1.5"/>
<rect x="1025.94" y="762.80" width="13.50" height="1.40" fill="#40ffff" stroke="#7e7e7e" stroke-width="1.5"/>
<rect x="1043.43" y="752.80" width="13.50" height="11.40" fill="#40ffff" stroke="#7e7e7e" stroke-width="1.5"/>
<line x1="1060.92" y1="763.50" x2="1074.42" y2="763.50" stroke="#808080" stroke-width="1"/>
<line x1="630.9" y1="764.2" x2="1098.6" y2="764.2" stroke="#1c1c1c" stroke-width="1.2"/>
<line x1="665.40" y1="764.2" x2="665.40" y2="768.8000000000001" stroke="#1c1c1c" stroke-width="1"/>
<g transform="translate(658.20,781.60) rotate(55)" fill="#000" ><text font-size="9.7" x="0.00 5.39 10.79 13.48 19.95" y="0">&#160;2&#160;AM</text><path d="M.3726,0H.2847V.56Q.2529,.5298 .2014,.4995T.1089,.4541V.5391Q.1826,.5737 .2378,.623T.3159,.7188H.3726Z" transform="translate(0.00,0) scale(9.7,-9.7)"/></g>
<line x1="682.89" y1="764.2" x2="682.89" y2="768.8000000000001" stroke="#1c1c1c" stroke-width="1"/>
<g transform="translate(675.69,781.60) rotate(55)" fill="#000" ><text font-size="9.7" x="0.00 5.39 8.09 14.56" y="0">&#160;&#160;AM</text><path d="M.3726,0H.2847V.56Q.2529,.5298 .2014,.4995T.1089,.4541V.5391Q.1826,.5737 .2378,.623T.3159,.7188H.3726Z" transform="translate(0.00,0) scale(9.7,-9.7)"/></g>
<line x1="700.38" y1="764.2" x2="700.38" y2="768.8000000000001" stroke="#1c1c1c" stroke-width="1"/>
<g transform="translate(693.18,781.60) rotate(55)" fill="#000" ><text font-size="9.7" x="0.00 5.39 8.09 14.56" y="0">2&#160;AM</text></g>
<line x1="717.87" y1="764.2" x2="717.87" y2="768.8000000000001" stroke="#1c1c1c" stroke-width="1"/>
<g transform="translate(710.67,781.60) rotate(55)" fill="#000" ><text font-size="9.7" x="0.00 5.39 8.09 14.56" y="0">3&#160;AM</text></g>
<line x1="735.36" y1="764.2" x2="735.36" y2="768.8000000000001" stroke="#1c1c1c" stroke-width="1"/>
<g transform="translate(728.16,781.60) rotate(55)" fill="#000" ><text font-size="9.7" x="0.00 5.39 8.09 14.56" y="0">4&#160;AM</text></g>
<line x1="752.85" y1="764.2" x2="752.85" y2="768.8000000000001" stroke="#1c1c1c" stroke-width="1"/>
<g transform="translate(745.65,781.60) rotate(55)" fill="#000" ><text font-size="9.7" x="0.00 5.39 8.09 14.56" y="0">5&#160;AM</text></g>
<line x1="770.34" y1="764.2" x2="770.34" y2="768.8000000000001" stroke="#1c1c1c" stroke-width="1"/>
<g transform="translate(763.14,781.60) rotate(55)" fill="#000" ><text font-size="9.7" x="0.00 5.39 8.09 14.56" y="0">6&#160;AM</text></g>
<line x1="787.83" y1="764.2" x2="787.83" y2="768.8000000000001" stroke="#1c1c1c" stroke-width="1"/>
<g transform="translate(780.63,781.60) rotate(55)" fill="#000" ><text font-size="9.7" x="0.00 5.39 8.09 14.56" y="0">7&#160;AM</text></g>
<line x1="805.32" y1="764.2" x2="805.32" y2="768.8000000000001" stroke="#1c1c1c" stroke-width="1"/>
<g transform="translate(798.12,781.60) rotate(55)" fill="#000" ><text font-size="9.7" x="0.00 5.39 8.09 14.56" y="0">8&#160;AM</text></g>
<line x1="822.81" y1="764.2" x2="822.81" y2="768.8000000000001" stroke="#1c1c1c" stroke-width="1"/>
<g transform="translate(815.61,781.60) rotate(55)" fill="#000" ><text font-size="9.7" x="0.00 5.39 8.09 14.56" y="0">9&#160;AM</text></g>
<line x1="840.30" y1="764.2" x2="840.30" y2="768.8000000000001" stroke="#1c1c1c" stroke-width="1"/>
<g transform="translate(833.10,781.60) rotate(55)" fill="#000" ><text font-size="9.7" x="0.00 5.39 10.79 13.48 19.95" y="0">&#160;0&#160;AM</text><path d="M.3726,0H.2847V.56Q.2529,.5298 .2014,.4995T.1089,.4541V.5391Q.1826,.5737 .2378,.623T.3159,.7188H.3726Z" transform="translate(0.00,0) scale(9.7,-9.7)"/></g>
<line x1="857.79" y1="764.2" x2="857.79" y2="768.8000000000001" stroke="#1c1c1c" stroke-width="1"/>
<g transform="translate(850.59,781.60) rotate(55)" fill="#000" ><text font-size="9.7" x="0.00 5.39 10.79 13.48 19.95" y="0">&#160;&#160;&#160;AM</text><path d="M.3726,0H.2847V.56Q.2529,.5298 .2014,.4995T.1089,.4541V.5391Q.1826,.5737 .2378,.623T.3159,.7188H.3726Z" transform="translate(0.00,0) scale(9.7,-9.7)"/><path d="M.3726,0H.2847V.56Q.2529,.5298 .2014,.4995T.1089,.4541V.5391Q.1826,.5737 .2378,.623T.3159,.7188H.3726Z" transform="translate(5.39,0) scale(9.7,-9.7)"/></g>
<line x1="875.28" y1="764.2" x2="875.28" y2="768.8000000000001" stroke="#1c1c1c" stroke-width="1"/>
<g transform="translate(868.08,781.60) rotate(55)" fill="#000" ><text font-size="9.7" x="0.00 5.39 10.79 13.48 19.95" y="0">&#160;2&#160;PM</text><path d="M.3726,0H.2847V.56Q.2529,.5298 .2014,.4995T.1089,.4541V.5391Q.1826,.5737 .2378,.623T.3159,.7188H.3726Z" transform="translate(0.00,0) scale(9.7,-9.7)"/></g>
<line x1="892.77" y1="764.2" x2="892.77" y2="768.8000000000001" stroke="#1c1c1c" stroke-width="1"/>
<g transform="translate(885.57,781.60) rotate(55)" fill="#000" ><text font-size="9.7" x="0.00 5.39 8.09 14.56" y="0">&#160;&#160;PM</text><path d="M.3726,0H.2847V.56Q.2529,.5298 .2014,.4995T.1089,.4541V.5391Q.1826,.5737 .2378,.623T.3159,.7188H.3726Z" transform="translate(0.00,0) scale(9.7,-9.7)"/></g>
<line x1="910.26" y1="764.2" x2="910.26" y2="768.8000000000001" stroke="#1c1c1c" stroke-width="1"/>
<g transform="translate(903.06,781.60) rotate(55)" fill="#000" ><text font-size="9.7" x="0.00 5.39 8.09 14.56" y="0">2&#160;PM</text></g>
<line x1="927.75" y1="764.2" x2="927.75" y2="768.8000000000001" stroke="#1c1c1c" stroke-width="1"/>
<g transform="translate(920.55,781.60) rotate(55)" fill="#000" ><text font-size="9.7" x="0.00 5.39 8.09 14.56" y="0">3&#160;PM</text></g>
<line x1="945.24" y1="764.2" x2="945.24" y2="768.8000000000001" stroke="#1c1c1c" stroke-width="1"/>
<g transform="translate(938.04,781.60) rotate(55)" fill="#000" ><text font-size="9.7" x="0.00 5.39 8.09 14.56" y="0">4&#160;PM</text></g>
<line x1="962.73" y1="764.2" x2="962.73" y2="768.8000000000001" stroke="#1c1c1c" stroke-width="1"/>
<g transform="translate(955.53,781.60) rotate(55)" fill="#000" ><text font-size="9.7" x="0.00 5.39 8.09 14.56" y="0">5&#160;PM</text></g>
<line x1="980.22" y1="764.2" x2="980.22" y2="768.8000000000001" stroke="#1c1c1c" stroke-width="1"/>
<g transform="translate(973.02,781.60) rotate(55)" fill="#000" ><text font-size="9.7" x="0.00 5.39 8.09 14.56" y="0">6&#160;PM</text></g>
<line x1="997.71" y1="764.2" x2="997.71" y2="768.8000000000001" stroke="#1c1c1c" stroke-width="1"/>
<g transform="translate(990.51,781.60) rotate(55)" fill="#000" ><text font-size="9.7" x="0.00 5.39 8.09 14.56" y="0">7&#160;PM</text></g>
<line x1="1015.20" y1="764.2" x2="1015.20" y2="768.8000000000001" stroke="#1c1c1c" stroke-width="1"/>
<g transform="translate(1008.00,781.60) rotate(55)" fill="#000" ><text font-size="9.7" x="0.00 5.39 8.09 14.56" y="0">8&#160;PM</text></g>
<line x1="1032.69" y1="764.2" x2="1032.69" y2="768.8000000000001" stroke="#1c1c1c" stroke-width="1"/>
<g transform="translate(1025.49,781.60) rotate(55)" fill="#000" ><text font-size="9.7" x="0.00 5.39 8.09 14.56" y="0">9&#160;PM</text></g>
<line x1="1050.18" y1="764.2" x2="1050.18" y2="768.8000000000001" stroke="#1c1c1c" stroke-width="1"/>
<g transform="translate(1042.98,781.60) rotate(55)" fill="#000" ><text font-size="9.7" x="0.00 5.39 10.79 13.48 19.95" y="0">&#160;0&#160;PM</text><path d="M.3726,0H.2847V.56Q.2529,.5298 .2014,.4995T.1089,.4541V.5391Q.1826,.5737 .2378,.623T.3159,.7188H.3726Z" transform="translate(0.00,0) scale(9.7,-9.7)"/></g>
<line x1="1067.67" y1="764.2" x2="1067.67" y2="768.8000000000001" stroke="#1c1c1c" stroke-width="1"/>
<g transform="translate(1060.47,781.60) rotate(55)" fill="#000" ><text font-size="9.7" x="0.00 5.39 10.79 13.48 19.95" y="0">&#160;&#160;&#160;PM</text><path d="M.3726,0H.2847V.56Q.2529,.5298 .2014,.4995T.1089,.4541V.5391Q.1826,.5737 .2378,.623T.3159,.7188H.3726Z" transform="translate(0.00,0) scale(9.7,-9.7)"/><path d="M.3726,0H.2847V.56Q.2529,.5298 .2014,.4995T.1089,.4541V.5391Q.1826,.5737 .2378,.623T.3159,.7188H.3726Z" transform="translate(5.39,0) scale(9.7,-9.7)"/></g>
</svg>
</body></html>
